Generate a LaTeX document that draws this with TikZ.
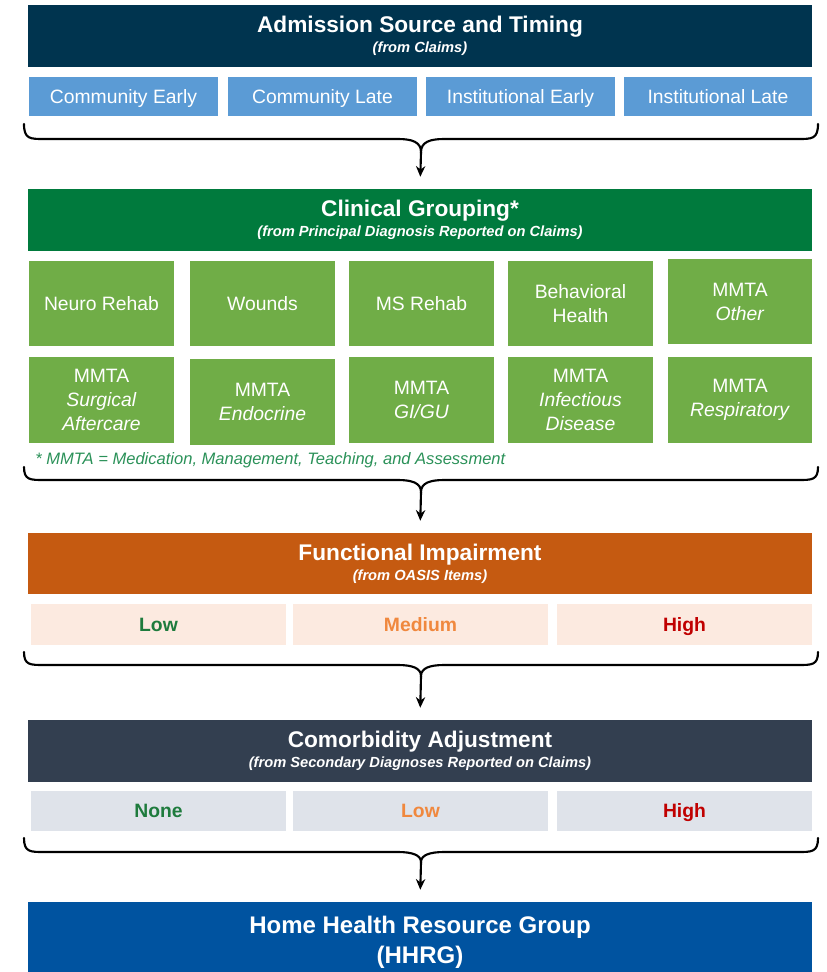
\documentclass[tikz,border=0pt]{standalone}
\usepackage{fontspec}
\setmainfont{Liberation Sans}
\usetikzlibrary{arrows.meta}
\definecolor{navyhdr}{HTML}{00344F}
\definecolor{greenhdr}{HTML}{007A3D}
\definecolor{greencell}{HTML}{70AD47}
\definecolor{bluecell}{HTML}{5B9BD5}
\definecolor{orangehdr}{HTML}{C55A11}
\definecolor{peachcell}{HTML}{FCEAE0}
\definecolor{slatehdr}{HTML}{333F50}
\definecolor{graycell}{HTML}{DFE3EA}
\definecolor{bluehdr}{HTML}{0053A0}
\definecolor{txtgreen}{HTML}{1E7B3D}
\definecolor{txtorange}{HTML}{F0883E}
\definecolor{txtred}{HTML}{C00000}
\definecolor{notegreen}{HTML}{2A9158}
\newcommand\bx[7]{\node[#6, minimum width={(#4-#2)*0.75pt}, minimum height={(#5-#3)*0.75pt}] (#1) at ({(#2+#4)/2},{(#3+#5)/2}) {#7};}
\newcommand\brc[4]{%
  \draw[bracepath] (24,#2) .. controls (24,#3) and (30,#3) .. (44,#3) -- (398,#3)
    .. controls (412,#3) and (421,{#3+3}) .. (421,#4)
    .. controls (421,{#3+3}) and (430,#3) .. (444,#3) -- (798,#3)
    .. controls (812,#3) and (818,#3) .. (818,#2);
  \coordinate (#1) at (421,#4);}
\begin{document}
\begin{tikzpicture}[x=0.75pt,y=-0.75pt,
  hdr/.style={inner sep=0pt, text=white, align=center, font=\bfseries},
  bighdr/.style={inner sep=0pt, text=white, align=center, font=\fontsize{18}{22.5}\selectfont\bfseries},
  cell/.style={inner sep=0pt, text=white, align=center, font=\fontsize{14.5}{18}\selectfont},
  oneline/.style={text height=13.4pt, text depth=3pt},
  lvl/.style={inner sep=0pt, align=center, font=\fontsize{14.5}{18}\selectfont\bfseries, oneline},
  bracepath/.style={line width=1.6pt, line cap=round},
  flowarrow/.style={line width=1.6pt, -{Stealth[length=8pt,width=7pt]}, shorten >=9pt},
]
\useasboundingbox (0,0) rectangle (826,972);
\newcommand\ttl[1]{{\fontsize{17}{19}\selectfont #1}}
\newcommand\sub[1]{{\fontsize{11}{13}\selectfont\itshape #1}}
% Section 1
\bx{h1}{28}{5}{812}{67}{hdr, fill=navyhdr}{\ttl{Admission Source and Timing}\\[3pt]\sub{(from Claims)}}
\bx{a1}{29}{77}{218}{116}{cell, oneline, fill=bluecell}{Community Early}
\bx{a2}{228}{77}{417}{116}{cell, oneline, fill=bluecell}{Community Late}
\bx{a3}{426}{77}{615}{116}{cell, oneline, fill=bluecell}{Institutional Early}
\bx{a4}{624}{77}{812}{116}{cell, oneline, fill=bluecell}{Institutional Late}
\brc{b1}{124}{139}{152}
% Section 2
\bx{h2}{28}{189}{812}{251}{hdr, fill=greenhdr}{\ttl{Clinical Grouping*}\\[3pt]\sub{(from Principal Diagnosis Reported on Claims)}}
\bx{c1}{29}{261}{174}{346}{cell, oneline, fill=greencell}{Neuro Rehab}
\bx{c2}{190}{261}{335}{346}{cell, oneline, fill=greencell}{Wounds}
\bx{c3}{349}{261}{494}{346}{cell, oneline, fill=greencell}{MS Rehab}
\bx{c4}{508}{261}{653}{346}{cell, fill=greencell}{Behavioral\\Health}
\bx{c5}{668}{259}{812}{344}{cell, fill=greencell}{MMTA\\\textit{Other}}
\bx{c6}{29}{357}{174}{443}{cell, fill=greencell}{MMTA\\\textit{Surgical}\\\textit{Aftercare}}
\bx{c7}{190}{359}{335}{445}{cell, fill=greencell}{MMTA\\\textit{Endocrine}}
\bx{c8}{349}{357}{494}{443}{cell, fill=greencell}{MMTA\\\textit{GI/GU}}
\bx{c9}{508}{357}{653}{443}{cell, fill=greencell}{MMTA\\\textit{Infectious}\\\textit{Disease}}
\bx{c10}{668}{357}{812}{443}{cell, fill=greencell}{MMTA\\\textit{Respiratory}}
\node[anchor=west, inner sep=0pt, text=notegreen, font=\fontsize{12.4}{14}\selectfont\itshape] (note) at (35,460) {* MMTA = Medication, Management, Teaching, and Assessment};
\brc{b2}{467}{480}{492}
% Section 3
\bx{h3}{28}{533}{812}{594}{hdr, fill=orangehdr}{\ttl{Functional Impairment}\\[3pt]\sub{(from OASIS Items)}}
\bx{f1}{31}{604}{286}{645}{lvl, fill=peachcell, text=txtgreen}{Low}
\bx{f2}{293}{604}{548}{645}{lvl, fill=peachcell, text=txtorange}{Medium}
\bx{f3}{557}{604}{812}{645}{lvl, fill=peachcell, text=txtred}{High}
\brc{b3}{652}{665}{676}
% Section 4
\bx{h4}{28}{720}{812}{782}{hdr, fill=slatehdr}{\ttl{Comorbidity Adjustment}\\[3pt]\sub{(from Secondary Diagnoses Reported on Claims)}}
\bx{m1}{31}{791}{286}{831}{lvl, fill=graycell, text=txtgreen}{None}
\bx{m2}{293}{791}{548}{831}{lvl, fill=graycell, text=txtorange}{Low}
\bx{m3}{557}{791}{812}{831}{lvl, fill=graycell, text=txtred}{High}
\brc{b4}{838}{852}{862}
% Result
\bx{hh}{28}{902}{812}{982}{bighdr, fill=bluehdr}{Home Health Resource Group\\(HHRG)}
% Arrows
\draw[flowarrow] (b1) -- (h2.north);
\draw[flowarrow] (b2) -- (h3.north);
\draw[flowarrow] (b3) -- (h4.north);
\draw[flowarrow] (b4) -- (hh.north);
\end{tikzpicture}
\end{document}
